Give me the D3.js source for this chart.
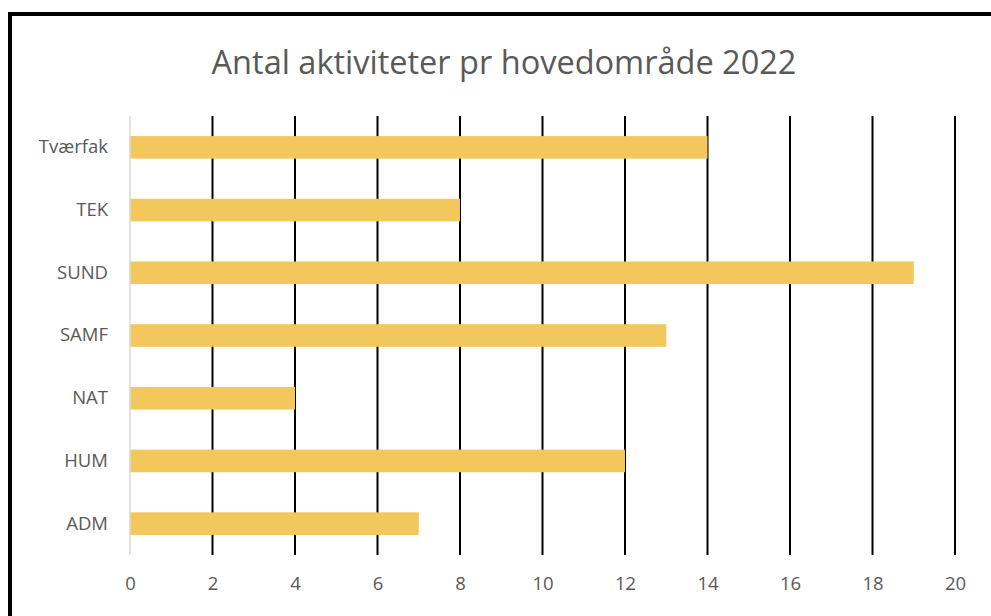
<!DOCTYPE html>
<html><head><meta charset="utf-8">
<script src="https://cdn.jsdelivr.net/npm/d3@7"></script>
<style>body{margin:0;background:#fff;}svg{display:block;}</style>
</head><body>
<svg id="c" width="991" height="616"></svg>
<script>
const title = "Antal aktiviteter pr hovedområde 2022";
const categories = ["Tværfak","TEK","SUND","SAMF","NAT","HUM","ADM"];
const values = [14,8,19,13,4,12,7];
const xTicks = [0,2,4,6,8,10,12,14,16,18,20];

const svg = d3.select("#c");
const W = 991, H = 616;
const m = {left:130, right:36, top:116, bottom:61};
const font = "'Open Sans', sans-serif";

svg.append("rect").attr("width",W).attr("height",H).attr("fill","#fff");
// outer border (only left/top visible in crop)
svg.append("rect").attr("x",10).attr("y",14).attr("width",W+20).attr("height",H+20)
  .attr("fill","none").attr("stroke","#000").attr("stroke-width",4);

const x = d3.scaleLinear().domain([0,20]).range([m.left, W-m.right]);
const y = d3.scaleBand().domain(categories).range([m.top, H-m.bottom]).paddingInner(0.64).paddingOuter(0.32);

svg.append("text").attr("x",504).attr("y",74).attr("text-anchor","middle")
  .attr("font-family",font).attr("font-size",32.5).attr("fill","#595959").text(title);

// gridlines
svg.append("g").selectAll("line").data(xTicks.filter(d=>d>0)).join("line")
  .attr("x1",d=>x(d)).attr("x2",d=>x(d)).attr("y1",m.top).attr("y2",H-m.bottom)
  .attr("stroke","#000").attr("stroke-width",2);

// bars
svg.append("g").selectAll("rect").data(categories).join("rect")
  .attr("x",x(0)).attr("y",c=>y(c)).attr("height",y.bandwidth())
  .attr("width",(c,i)=>x(values[i])-x(0)).attr("fill","#F2C75C");

// category axis line
svg.append("line").attr("x1",x(0)).attr("x2",x(0)).attr("y1",m.top).attr("y2",H-m.bottom)
  .attr("stroke","#d9d9d9").attr("stroke-width",1.5);

// x tick labels
const xa = svg.append("g").attr("transform",`translate(0,${H-m.bottom})`)
  .call(d3.axisBottom(x).tickValues(xTicks).tickSize(0).tickPadding(22));
xa.select(".domain").remove();
xa.selectAll("text").attr("font-family",font).attr("font-size",18.5).attr("fill","#595959");

// y labels
const ya = svg.append("g").attr("transform",`translate(${m.left},0)`)
  .call(d3.axisLeft(y).tickSize(0).tickPadding(22));
ya.select(".domain").remove();
ya.selectAll("text").attr("font-family",font).attr("font-size",18.5).attr("fill","#595959");
</script>
</body></html>
